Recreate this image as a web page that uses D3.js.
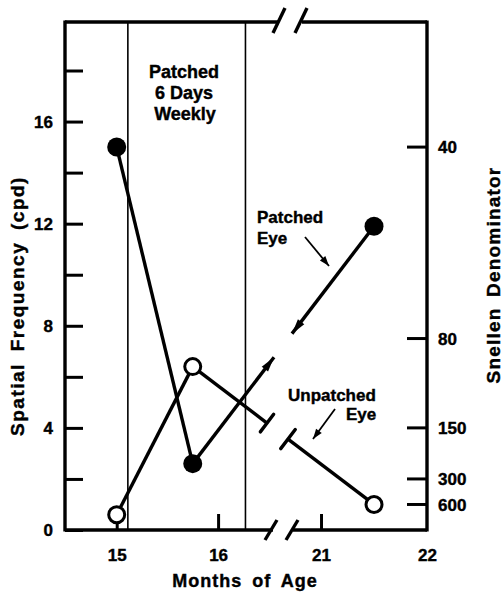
<!DOCTYPE html>
<html>
<head>
<meta charset="utf-8">
<script src="https://cdn.jsdelivr.net/npm/d3@7"></script>
<style>
  body { margin: 0; background: #fff; }
  text { font-family: "Liberation Sans", Arial, sans-serif; font-weight: bold; fill: #000; stroke: #000; stroke-width: 0.4px; }
</style>
</head>
<body>
<script>
// data
const months = [15, 15.75, 21.5];
const patchedEye = [15, 2.6, 11.9];
const unpatchedEye = [0.6, 6.4, 1.0];
const patchPeriod = [15.11, 16.27];
const sfTicks = [0, 2, 4, 6, 8, 10, 12, 14, 16, 18];
const sfLabels = [0, 4, 8, 12, 16];
const snellenTicks = [40, 80, 150, 300, 600];
const monthTicks = [15, 16, 21, 22];

const W = 503, H = 592;
const L = 65, R = 427, T = 22, B = 530;

const svg = d3.select("body").append("svg").attr("width", W).attr("height", H);

// broken x axis: 16.66 .. 20.66 collapses onto one pixel
const x = d3.scaleLinear().domain([14.49, 16.66, 20.66, 22]).range([L, 285, 285, R]);
const y = d3.scaleLinear().domain([0, 19.9]).range([B, T]);
const bx = x(16.66);

// patch period lines
svg.selectAll(".period").data(patchPeriod).enter().append("line")
  .attr("x1", d => x(d)).attr("x2", d => x(d))
  .attr("y1", T).attr("y2", B)
  .attr("stroke", "#000").attr("stroke-width", 1.6);

// frame
const frame = svg.append("g").attr("stroke", "#000").attr("stroke-width", 3.4).attr("fill", "none");
frame.append("line").attr("x1", L).attr("x2", L).attr("y1", T - 1.5).attr("y2", B + 1.5);
frame.append("line").attr("x1", R).attr("x2", R).attr("y1", T - 1.5).attr("y2", B + 1.5);
frame.append("line").attr("x1", L).attr("x2", bx - 7).attr("y1", T).attr("y2", T);
frame.append("line").attr("x1", bx + 17).attr("x2", R).attr("y1", T).attr("y2", T);
frame.append("line").attr("x1", L).attr("x2", bx - 12).attr("y1", B).attr("y2", B);
frame.append("line").attr("x1", bx + 8).attr("x2", R).attr("y1", B).attr("y2", B);
// break slashes
[bx - 6, bx + 16].forEach(c => {
  frame.append("line").attr("x1", c - 6).attr("y1", T + 11).attr("x2", c + 6).attr("y2", T - 14);
});
[bx - 14, bx + 7].forEach(c => {
  frame.append("line").attr("x1", c - 6).attr("y1", B + 10).attr("x2", c + 6).attr("y2", B - 10);
});

// left axis
const yAxis = d3.axisLeft(y).tickValues(sfTicks).tickSize(-18).tickPadding(12)
  .tickFormat(d => sfLabels.includes(d) ? d : "");
const gy = svg.append("g").attr("transform", `translate(${L},0)`).call(yAxis);
gy.select(".domain").remove();
gy.selectAll(".tick line").attr("stroke-width", 3);
gy.selectAll(".tick text").style("font-size", "17px");

// right axis: Snellen denominator 20/d  ->  600/d cpd
const gr = svg.append("g").attr("transform", `translate(${R},0)`);
const rt = gr.selectAll(".rt").data(snellenTicks).enter().append("g")
  .attr("transform", d => `translate(0,${y(600 / d)})`);
rt.append("line").attr("x1", -20).attr("x2", 0).attr("stroke", "#000").attr("stroke-width", 3);
rt.append("text").attr("x", 11).attr("dy", "0.36em").style("font-size", "17px").text(d => d);

// bottom axis
const xAxis = d3.axisBottom(x).tickValues(monthTicks).tickSize(-16).tickPadding(19);
const gx = svg.append("g").attr("transform", `translate(0,${B})`).call(xAxis);
gx.select(".domain").remove();
gx.selectAll(".tick line").attr("stroke-width", 3).filter(d => d === 22).remove();
gx.selectAll(".tick text").style("font-size", "17px");

// axis titles
svg.append("text").attr("transform", `translate(24,${(T + B) / 2 + 30}) rotate(-90)`)
  .attr("text-anchor", "middle").style("font-size", "19px").style("letter-spacing", "1.5px")
  .style("word-spacing", "5px").text("Spatial Frequency (cpd)");
svg.append("text").attr("transform", `translate(500,275) rotate(-90)`)
  .attr("text-anchor", "middle").style("font-size", "19px").style("letter-spacing", "1.2px")
  .style("word-spacing", "4px").text("Snellen Denominator");
svg.append("text").attr("x", 245).attr("y", 587).attr("text-anchor", "middle")
  .style("font-size", "18px").style("letter-spacing", "1px").style("word-spacing", "4px")
  .text("Months of Age");

// annotation text
const note = svg.append("text").attr("text-anchor", "middle").style("font-size", "18px");
note.append("tspan").attr("x", 184).attr("y", 78).text("Patched");
note.append("tspan").attr("x", 184).attr("y", 99).text("6 Days");
note.append("tspan").attr("x", 185).attr("y", 120).text("Weekly");

const lab1 = svg.append("text").style("font-size", "17px");
lab1.append("tspan").attr("x", 257).attr("y", 223).text("Patched");
lab1.append("tspan").attr("x", 257).attr("y", 244).text("Eye");
const lab2 = svg.append("text").style("font-size", "17px");
lab2.append("tspan").attr("x", 288).attr("y", 401).text("Unpatched");
lab2.append("tspan").attr("x", 346).attr("y", 420).text("Eye");

// helpers
function pt(i, vals) { return [x(months[i]), y(vals[i])]; }
function atX(a, b, px) {
  const t = (px - a[0]) / (b[0] - a[0]);
  return [px, a[1] + t * (b[1] - a[1])];
}
function arrowHead(tip, from, len, hw) {
  const dx = tip[0] - from[0], dy = tip[1] - from[1];
  const n = Math.hypot(dx, dy), ux = dx / n, uy = dy / n;
  const bxp = tip[0] - ux * len, byp = tip[1] - uy * len;
  svg.append("path")
    .attr("d", `M${tip[0]},${tip[1]}L${bxp - uy * hw},${byp + ux * hw}L${bxp + uy * hw},${byp - ux * hw}Z`)
    .attr("fill", "#000");
}
function tBar(p, from, hw) {
  const dx = p[0] - from[0], dy = p[1] - from[1];
  const n = Math.hypot(dx, dy), ux = dx / n, uy = dy / n;
  svg.append("line")
    .attr("x1", p[0] - uy * hw).attr("y1", p[1] + ux * hw)
    .attr("x2", p[0] + uy * hw).attr("y2", p[1] - ux * hw)
    .attr("stroke", "#000").attr("stroke-width", 3.4).attr("stroke-linecap", "round");
}
const seg = (a, b) => svg.append("line")
  .attr("x1", a[0]).attr("y1", a[1]).attr("x2", b[0]).attr("y2", b[1])
  .attr("stroke", "#000").attr("stroke-width", 3.4);

// patched eye: filled circles, arrowheads into the break
{
  const p0 = pt(0, patchedEye), p1 = pt(1, patchedEye), p2 = pt(2, patchedEye);
  seg(p0, p1);
  const e1 = atX(p1, p2, bx - 11), s2 = atX(p1, p2, bx + 7);
  seg(p1, e1); seg(s2, p2);
  arrowHead(e1, p1, 15, 4);
  arrowHead(s2, p2, 15, 4);
}
// unpatched eye: open circles, bars at the break
{
  const p0 = pt(0, unpatchedEye), p1 = pt(1, unpatchedEye), p2 = pt(2, unpatchedEye);
  seg(p0, p1);
  const e1 = atX(p1, p2, bx - 18), s2 = atX(p1, p2, bx + 3);
  seg(p1, e1); seg(s2, p2);
  tBar(e1, p1, 11);
  tBar(s2, p2, 12);
}

svg.selectAll(".pc").data(months).enter().append("circle")
  .attr("cx", d => x(d)).attr("cy", (d, i) => y(patchedEye[i])).attr("r", 9.5).attr("fill", "#000");
svg.selectAll(".uc").data(months).enter().append("circle")
  .attr("cx", d => x(d)).attr("cy", (d, i) => y(unpatchedEye[i])).attr("r", 8)
  .attr("fill", "#fff").attr("stroke", "#000").attr("stroke-width", 3);

// label arrows
function labelArrow(a, b) {
  svg.append("line").attr("x1", a[0]).attr("y1", a[1]).attr("x2", b[0]).attr("y2", b[1])
    .attr("stroke", "#000").attr("stroke-width", 1.8);
  arrowHead(b, a, 10, 3.5);
}
labelArrow([305, 237], [329, 266]);
labelArrow([335, 409], [313, 439]);
</script>
</body>
</html>
